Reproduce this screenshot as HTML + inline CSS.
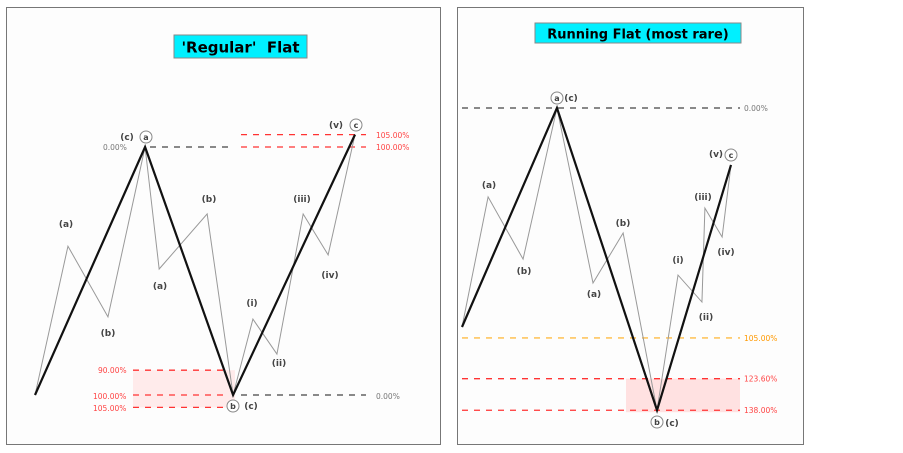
<!DOCTYPE html>
<html><head><meta charset="utf-8">
<style>
html,body{margin:0;padding:0;background:#fff;width:903px;height:453px;overflow:hidden}
svg{display:block}
text{font-family:"DejaVu Sans","Liberation Sans",sans-serif}
</style></head>
<body>
<svg id="chart" width="903" height="453">
  <rect x="6.5" y="7.5" width="434" height="437" fill="#fdfdfd" stroke="#777" stroke-width="1"/>
  <rect x="457.5" y="7.5" width="346" height="437" fill="#fdfdfd" stroke="#777" stroke-width="1"/>
  <rect x="174" y="35" width="133" height="23" fill="#00f0ff" stroke="#888"/>
  <text x="240.5" y="52.5" text-anchor="middle" font-size="15" font-weight="bold" fill="#000">'Regular' &#160;Flat</text>
  <rect x="535" y="23" width="206" height="20" fill="#00f0ff" stroke="#888"/>
  <text x="638" y="38.5" text-anchor="middle" font-size="13" font-weight="bold" fill="#000">Running Flat (most rare)</text>
  <g id="left"></g>
  <g id="right"></g>
</svg>
<script>
// Left panel: 'Regular' Flat
const leftSubT = [0,10.3,22.8,34.4,38.8,53.8,61.9,68.1,75.6,83.8,91.6,100];
const leftSubP = [0,60,31.5,100,50.8,73,0,30.6,16.5,73,56.5,105];
const leftMainT = [0,34.4,61.9,100];
const leftMainP = [0,100,0,105];
// Right panel: Running Flat
const rightSubT = [0,9.7,22.7,35.3,48.7,59.9,72.5,80.3,89.2,90.3,96.7,100];
const rightSubP = [0,59.4,31,100,20.1,42.9,-38,23.7,11.4,54.3,41.1,74];
const rightMainT = [0,35.3,72.5,100];
const rightMainP = [0,100,-38,74];

const NS='http://www.w3.org/2000/svg';
function mk(parent,tag,attrs){const e=document.createElementNS(NS,tag);for(const k in attrs)e.setAttribute(k,attrs[k]);parent.appendChild(e);return e;}
function txt(parent,x,y,s,opts){const e=mk(parent,'text',Object.assign({x:x,y:y,'font-size':9,'font-weight':'bold',fill:'#444'},opts||{}));e.textContent=s;return e;}

function panel(g,xs,ys,subT,subP,mainT,mainP,name){
  const sub=subT.map((t,i)=>xs(t)+','+ys(subP[i])).join(' ');
  const p1=mk(g,'polyline',{points:sub,fill:'none',stroke:'#999',"stroke-width":1});
  
  
  const main=mainT.map((t,i)=>xs(t)+','+ys(mainP[i])).join(' ');
  const p2=mk(g,'polyline',{points:main,fill:'none',stroke:'#111',"stroke-width":2.2,"stroke-linejoin":"miter"});
  
  
}
function dash(g,x1,x2,y,color,name){
  const l=mk(g,'line',{x1:x1,x2:x2,y1:y,y2:y,stroke:color,"stroke-width":1.3,"stroke-dasharray":"6,6"});
  
  
}
function circ(g,x,y,s,name){
  const c=mk(g,'circle',{cx:x,cy:y,r:6,fill:'#fff',stroke:'#888',"stroke-width":1});
  
  
  const t=txt(g,x,y+3,s,{'text-anchor':'middle','font-size':8});
  
  
}
function lab(g,x,y,s,name,opts){
  const t=txt(g,x,y,s,Object.assign({'text-anchor':'middle'},opts||{}));
  
  
}

// LEFT
(function(){
  const g=document.getElementById('left');
  const xs=t=>35+t*3.2, ys=p=>395-p*2.48;
  const r=mk(g,'rect',{x:133,y:ys(10),width:102,height:ys(-5)-ys(10),fill:'#ffe3e3',opacity:0.7});
  
  
  dash(g,150,228,ys(100),'#444','zero-level-top');
  dash(g,241,366,ys(105),'#f33','ext-105-level');
  dash(g,241,366,ys(100),'#f33','ext-100-level');
  dash(g,133,228,ys(10),'#f33','ret-90-level');
  dash(g,133,228,ys(0),'#f33','ret-100-level');
  dash(g,133,228,ys(-5),'#f33','ret-105-level');
  dash(g,241,366,ys(0),'#444','zero-level-bottom');
  panel(g,xs,ys,leftSubT,leftSubP,leftMainT,leftMainP,'regular-flat');
  const red={'text-anchor':'start','font-weight':'normal',fill:'#f44','font-size':7.5};
  const gry={'text-anchor':'start','font-weight':'normal',fill:'#777','font-size':7.5};
  lab(g,103,150,'0.00%','label-0-top',gry);
  lab(g,376,138,'105.00%','label-105-top',red);
  lab(g,376,150,'100.00%','label-100-top',red);
  lab(g,98,373,'90.00%','label-90',red);
  lab(g,93,399,'100.00%','label-100-bottom',red);
  lab(g,93,411,'105.00%','label-105-bottom',red);
  lab(g,376,399,'0.00%','label-0-bottom',gry);
  lab(g,66,227,'(a)','sub-a1'); lab(g,108,336,'(b)','sub-b1');
  lab(g,127,140,'(c)','sub-c1'); circ(g,146,137,'a','wave-a');
  lab(g,160,289,'(a)','sub-a2'); lab(g,209,202,'(b)','sub-b2');
  circ(g,233,406,'b','wave-b'); lab(g,251,409,'(c)','sub-c2');
  lab(g,252,306,'(i)','sub-i'); lab(g,279,366,'(ii)','sub-ii');
  lab(g,302,202,'(iii)','sub-iii'); lab(g,330,278,'(iv)','sub-iv');
  lab(g,336,128,'(v)','sub-v'); circ(g,356,125,'c','wave-c');
})();

// RIGHT
(function(){
  const g=document.getElementById('right');
  const xs=t=>462+t*2.69, ys=p=>327-p*2.19;
  const lvl=r=>ys(100-r*100);
  const rc=mk(g,'rect',{x:626,y:lvl(1.236),width:114,height:lvl(1.38)-lvl(1.236)+2,fill:'#ffd9d9',opacity:0.8});
  
  
  dash(g,462,740,lvl(0),'#444','zero-level');
  dash(g,462,740,lvl(1.05),'#fb4','ret-105-level');
  dash(g,462,740,lvl(1.236),'#f33','ret-1236-level');
  dash(g,462,740,lvl(1.38),'#f33','ret-138-level');
  panel(g,xs,ys,rightSubT,rightSubP,rightMainT,rightMainP,'running-flat');
  const o={'text-anchor':'start','font-weight':'normal','font-size':7.5};
  lab(g,744,lvl(0)+3,'0.00%','label-0',Object.assign({fill:'#777'},o));
  lab(g,744,lvl(1.05)+3,'105.00%','label-105',Object.assign({fill:'#f90'},o));
  lab(g,744,lvl(1.236)+3,'123.60%','label-1236',Object.assign({fill:'#f44'},o));
  lab(g,744,lvl(1.38)+3,'138.00%','label-138',Object.assign({fill:'#f44'},o));
  lab(g,489,188,'(a)','sub-a1'); lab(g,524,274,'(b)','sub-b1');
  circ(g,557,98,'a','wave-a'); lab(g,571,101,'(c)','sub-c1');
  lab(g,594,297,'(a)','sub-a2'); lab(g,623,226,'(b)','sub-b2');
  circ(g,657,422,'b','wave-b'); lab(g,672,426,'(c)','sub-c2');
  lab(g,678,263,'(i)','sub-i'); lab(g,706,320,'(ii)','sub-ii');
  lab(g,703,200,'(iii)','sub-iii'); lab(g,726,255,'(iv)','sub-iv');
  lab(g,716,157,'(v)','sub-v'); circ(g,731,155,'c','wave-c');
})();
</script>
</body></html>
